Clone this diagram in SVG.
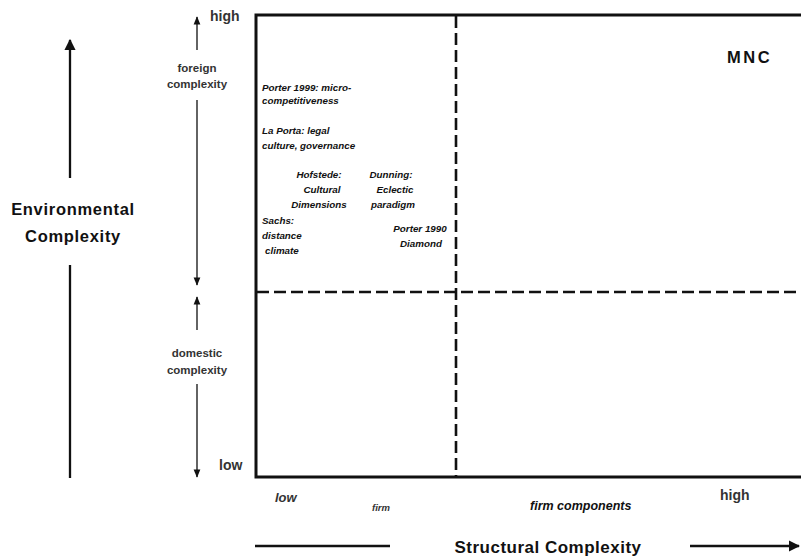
<svg xmlns="http://www.w3.org/2000/svg" width="801" height="557" viewBox="0 0 801 557">
  <defs>
    <marker id="head" viewBox="0 0 10 10" refX="9" refY="5" markerWidth="5" markerHeight="5" orient="auto-start-reverse" markerUnits="strokeWidth">
      <path d="M0,0 L10,5 L0,10 z" fill="#111"/>
    </marker>
    <marker id="headS" viewBox="0 0 10 10" refX="9" refY="5" markerWidth="6" markerHeight="6" orient="auto-start-reverse" markerUnits="strokeWidth">
      <path d="M0,1 L10,5 L0,9 z" fill="#111"/>
    </marker>
  </defs>
  <style>
    text { font-family: "Liberation Sans", Arial, sans-serif; fill: #111; }
    .frame { fill: none; stroke: #111; stroke-width: 3; }
    .dash { fill: none; stroke: #111; stroke-width: 2.6; stroke-dasharray: 12 5; }
    .axis { fill: none; stroke: #111; stroke-width: 2.3; }
    .axisT { fill: none; stroke: #222; stroke-width: 1.4; }
    .big { font-size: 16.5px; font-weight: bold; letter-spacing: 0.7px; }
    .lab { font-size: 11.5px; font-weight: bold; fill: #333; }
    .ref { font-size: 9.8px; font-weight: bold; font-style: italic; }
    .end { font-size: 14px; font-weight: bold; fill: #333; }
    .mid { text-anchor: middle; }
  </style>
  <rect width="801" height="557" fill="#fff"/>

  <!-- matrix frame and quadrant dividers -->
  <g id="matrix">
    <path class="frame" d="M801,15 H256 V477 H801"/>
    <line class="dash" x1="456" y1="16" x2="456" y2="476"/>
    <line class="dash" x1="257" y1="292" x2="801" y2="292"/>
  </g>

  <g id="connectors">
    <!-- environmental complexity (outer) -->
    <line class="axis" x1="70" y1="178" x2="70" y2="40" marker-end="url(#head)"/>
    <line class="axis" x1="70" y1="265" x2="70" y2="478"/>
    <!-- foreign / domestic scale -->
    <line class="axisT" x1="197" y1="50" x2="197" y2="17" marker-end="url(#headS)"/>
    <line class="axisT" x1="197" y1="100" x2="197" y2="285" marker-end="url(#headS)"/>
    <line class="axisT" x1="197" y1="330" x2="197" y2="297" marker-end="url(#headS)"/>
    <line class="axisT" x1="197" y1="384" x2="197" y2="477" marker-end="url(#headS)"/>
    <!-- structural complexity -->
    <line class="axis" x1="255" y1="546" x2="390" y2="546"/>
    <line class="axis" x1="690" y1="546" x2="799" y2="546" marker-end="url(#head)"/>
  </g>

  <g id="env-label">
    <text class="big mid" x="73" y="215">Environmental</text>
    <text class="big mid" x="73" y="242">Complexity</text>
  </g>

  <g id="scale-labels">
    <text class="end" x="210" y="21">high</text>
    <text class="lab mid" x="197" y="72">foreign</text>
    <text class="lab mid" x="197" y="88">complexity</text>
    <text class="lab mid" x="197" y="357">domestic</text>
    <text class="lab mid" x="197" y="374">complexity</text>
    <text class="end" x="219" y="470">low</text>
  </g>

  <g id="mnc">
    <text x="727" y="63" style="font-size:16.5px;font-weight:bold;letter-spacing:2.5px">MNC</text>
  </g>

  <g id="porter-1999">
    <text class="ref" x="262" y="91">Porter 1999: micro-</text>
    <text class="ref" x="262" y="104">competitiveness</text>
  </g>
  <g id="la-porta">
    <text class="ref" x="262" y="134">La Porta: legal</text>
    <text class="ref" x="262" y="149">culture, governance</text>
  </g>
  <g id="hofstede">
    <text class="ref mid" x="319" y="178">Hofstede:</text>
    <text class="ref mid" x="322" y="193">Cultural</text>
    <text class="ref mid" x="319" y="208">Dimensions</text>
  </g>
  <g id="dunning">
    <text class="ref mid" x="391" y="178">Dunning:</text>
    <text class="ref mid" x="395" y="193">Eclectic</text>
    <text class="ref mid" x="393" y="208">paradigm</text>
  </g>
  <g id="sachs">
    <text class="ref" x="262" y="224">Sachs:</text>
    <text class="ref" x="262" y="239">distance</text>
    <text class="ref" x="265" y="254">climate</text>
  </g>
  <g id="porter-1990">
    <text class="ref mid" x="420" y="232">Porter 1990</text>
    <text class="ref mid" x="421" y="247">Diamond</text>
  </g>

  <g id="bottom-labels">
    <text x="275" y="502" style="font-size:13px;font-weight:bold;font-style:italic;fill:#333">low</text>
    <text x="372" y="511" style="font-size:9.5px;font-weight:bold;font-style:italic;fill:#333">firm</text>
    <text x="530" y="510" style="font-size:12.5px;font-weight:bold;font-style:italic">firm components</text>
    <text x="720" y="500" style="font-size:14px;font-weight:bold;fill:#333">high</text>
    <text class="mid" x="548" y="553" style="font-size:17px;font-weight:bold;letter-spacing:0.5px">Structural Complexity</text>
  </g>
</svg>
